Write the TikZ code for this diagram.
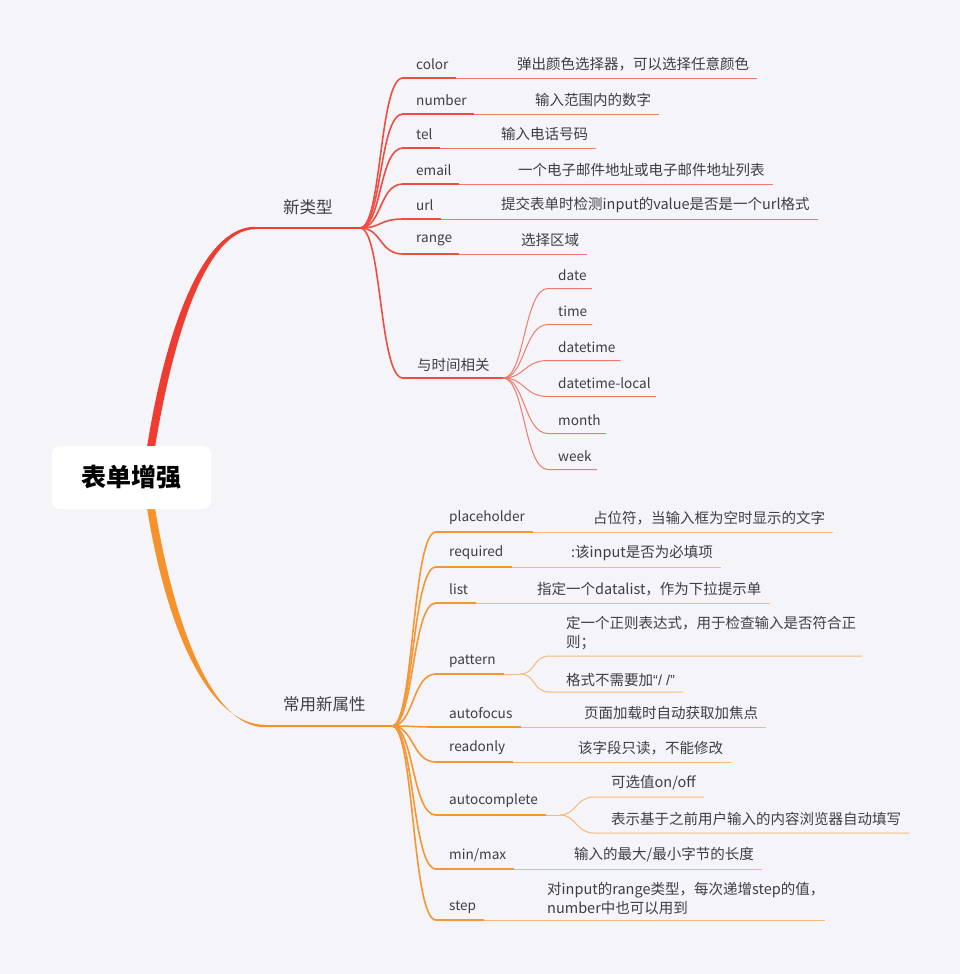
\documentclass[tikz,border=0pt]{standalone}
\usepackage{fontspec}
\setmainfont{Noto Sans CJK SC}
\newfontfamily\latq{Liberation Sans}
\definecolor{bg}{RGB}{245,245,249}
\definecolor{txt}{RGB}{62,62,66}
\definecolor{redA}{RGB}{238,60,48}
\definecolor{redB}{RGB}{238,78,66}
\definecolor{redL}{RGB}{242,120,110}
\definecolor{orA}{RGB}{245,146,44}
\definecolor{orB}{RGB}{245,150,52}
\definecolor{orL}{RGB}{247,184,124}
\begin{document}
\begin{tikzpicture}[x=1pt,y=-1pt,
  every node/.style={inner sep=0pt, anchor=west, text=txt, font=\fontsize{14.5}{19}\selectfont},
  lbl/.style={font=\fontsize{13.6}{18}\selectfont},
  rsub/.style={draw=redB, line width=1.6pt},
  rlab/.style={draw=redB, line width=2.4pt},
  rthin/.style={draw=redL, line width=1pt},
  osub/.style={draw=orB, line width=1.6pt},
  olab/.style={draw=orB, line width=2.4pt},
  othin/.style={draw=orL, line width=1pt},
  branch/.style={font=\fontsize{16.5}{20}\selectfont}]
\fill[bg] (0,0) rectangle (960,974);
\useasboundingbox (0,0) rectangle (960,974);

% ---------- main branches ----------
\node[branch] (nt) at (283,207) {新类型};
\node[branch] (cy) at (283,704) {常用新属性};
\coordinate (rhub) at (360,228);
\coordinate (ohub) at (392,726);

\fill[redA] (147,447) .. controls (166,328) and (203,226.8) .. (255,226.8)
  -- (255,229.2) .. controls (207,229.5) and (174,332) .. (155,447) -- cycle;
\draw[redA, line width=2.4pt] (254,228) -- (rhub);

\fill[orA] (147,508) .. controls (166,627) and (208,724.8) .. (265,724.8)
  -- (265,727.2) .. controls (212,727.5) and (174,624) .. (155,508) -- cycle;
\draw[orA, line width=2.4pt] (264,726) -- (ohub);

% ---------- 新类型 children ----------
\foreach \nm/\lab/\ty/\dx/\desc in {
  color/color/64/517/弹出颜色选择器，可以选择任意颜色,
  number/number/100/535/输入范围内的数字,
  tel/tel/134/501/输入电话号码,
  email/email/170/518/一个电子邮件地址或电子邮件地址列表,
  url/url/205/501/提交表单时检测input的value是否是一个url格式,
  range/range/240/521/选择区域}{
  \pgfmathsetmacro\ly{\ty+14}
  \node[lbl] (\nm) at (416,\ty) {\lab};
  \node (\nm-d) at (\dx,\ty) {\desc};
  \draw[rsub] (rhub) .. controls +(22,0) and +(-24,0) .. (403,\ly);
  \draw[rthin] ([xshift=7pt]\nm.east |- 0,\ly) -- ([xshift=8pt]\nm-d.east |- 0,\ly);
  \draw[rlab] (402,\ly) -- ([xshift=7pt]\nm.east |- 0,\ly);
}

% ---------- 与时间相关 ----------
\node (tm) at (417,365) {与时间相关};
\coordinate (thub) at (503,378);
\draw[rsub] (rhub) .. controls +(22,0) and +(-24,0) .. (403,378);
\draw[rlab] (402,378) -- (thub);
\foreach \nm/\lab/\ty in {t1/date/275, t2/time/311, t3/datetime/347,
  t4/datetime-local/383, t5/month/420, t6/week/456}{
  \pgfmathsetmacro\ly{\ty+13.5}
  \node[lbl] (\nm) at (558,\ty) {\lab};
  \draw[rthin] (thub) .. controls +(22,0) and +(-24,0) .. (548,\ly)
     -- ([xshift=5pt]\nm.east |- 0,\ly);
}

% ---------- 常用新属性 children ----------
\foreach \nm/\lab/\ty/\dx/\desc in {
  pl/placeholder/518/593/占位符，当输入框为空时显示的文字,
  rq/required/553/571/:该input是否为必填项,
  li/list/589/537/指定一个datalist，作为下拉提示单,
  af/autofocus/713/584/页面加载时自动获取加焦点,
  ro/readonly/748/578/该字段只读，不能修改}{
  \pgfmathsetmacro\ly{\ty+14}
  \node[lbl] (\nm) at (449,\ty) {\lab};
  \node (\nm-d) at (\dx,\ty) {\desc};
  \draw[osub] (ohub) .. controls +(22,0) and +(-24,0) .. (436,\ly);
  \draw[othin] ([xshift=8pt]\nm.east |- 0,\ly) -- ([xshift=8pt]\nm-d.east |- 0,\ly);
  \draw[olab] (435,\ly) -- ([xshift=8pt]\nm.east |- 0,\ly);
}

% min/max
\node[lbl] (mm) at (449,855) {min/max};
\node (mm-d) at (574,855) {输入的最大/最小字节的长度};
\draw[osub] (ohub) .. controls +(22,0) and +(-24,0) .. (436,869);
\draw[othin] ([xshift=8pt]mm.east |- 0,869) -- ([xshift=8pt]mm-d.east |- 0,869);
\draw[olab] (435,869) -- ([xshift=8pt]mm.east |- 0,869);

% step
\node[lbl] (st) at (449,907) {step};
\node[align=left] (st-d) at (547,898) {对input的range类型，每次递增step的值，\\number中也可以用到};
\coordinate (st-e) at (825,920);
\draw[osub] (ohub) .. controls +(22,0) and +(-24,0) .. (436,920);
\draw[othin] ([xshift=8pt]st.east |- 0,920) -- (st-e);
\draw[olab] (435,920) -- ([xshift=8pt]st.east |- 0,920);

% pattern
\node[lbl] (pa) at (449,661) {pattern};
\coordinate (phub) at (520,674);
\draw[osub] (ohub) .. controls +(22,0) and +(-24,0) .. (436,674);
\draw[olab] (435,674) -- ([xshift=8pt]pa.east |- 0,674);
\draw[othin] ([xshift=8pt]pa.east |- 0,674) -- (phub);
\node[align=left] (p1) at (566,633.5) {定一个正则表达式，用于检查输入是否符合正\\则；};
\node (p2) at (566,680) {格式不需要加{\latq“/ /”}};
\coordinate (p1-e) at (862,656);
\draw[othin] (phub) .. controls +(16,0) and +(-18,0) .. (550,656) -- (p1-e);
\draw[othin] (phub) .. controls +(16,0) and +(-18,0) .. (550,692)
   -- ([xshift=8pt]p2.east |- 0,692);

% autocomplete
\node[lbl] (ac) at (449,801) {autocomplete};
\coordinate (ahub) at (560,815);
\draw[osub] (ohub) .. controls +(22,0) and +(-24,0) .. (436,815);
\draw[olab] (435,815) -- ([xshift=8pt]ac.east |- 0,815);
\draw[othin] ([xshift=8pt]ac.east |- 0,815) -- (ahub);
\node (a1) at (611,783) {可选值on/off};
\node (a2) at (611,819) {表示基于之前用户输入的内容浏览器自动填写};
\draw[othin] (ahub) .. controls +(16,0) and +(-18,0) .. (594,797)
   -- ([xshift=8pt]a1.east |- 0,797);
\draw[othin] (ahub) .. controls +(16,0) and +(-18,0) .. (594,833)
   -- ([xshift=8pt]a2.east |- 0,833);

% ---------- root ----------
\node[fill=white, rounded corners=8pt, minimum width=159pt, minimum height=63pt,
  anchor=center, text=black, font=\fontsize{25}{28}\selectfont\bfseries]
  (root) at (131.5,477.5) {表单增强};
\end{tikzpicture}
\end{document}
